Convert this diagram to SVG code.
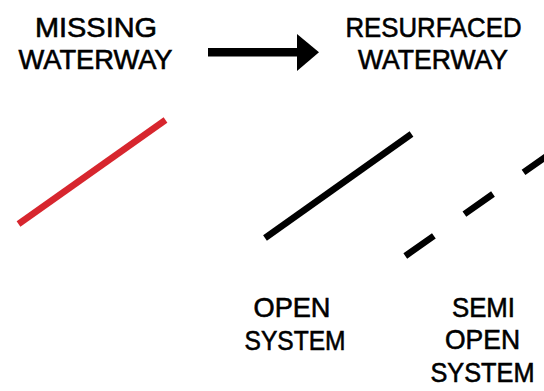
<svg xmlns="http://www.w3.org/2000/svg" width="544" height="391" viewBox="0 0 544 391">
<style>
  .t { font-family: "Liberation Sans", Arial, sans-serif; font-size: 28px; fill: #000; stroke: #000; stroke-width: 0.6; text-anchor: middle; }
  .ln { stroke-width: 6.5; stroke-linecap: butt; fill: none; }
</style>
<rect width="544" height="391" fill="#fff"/>
<g id="missing-label">
  <text class="t" x="96" y="37" textLength="122" lengthAdjust="spacingAndGlyphs">MISSING</text>
  <text class="t" x="95.5" y="69" textLength="154" lengthAdjust="spacingAndGlyphs">WATERWAY</text>
</g>
<g id="resurfaced-label">
  <text class="t" x="433.5" y="37" textLength="176" lengthAdjust="spacingAndGlyphs">RESURFACED</text>
  <text class="t" x="433" y="69" textLength="150" lengthAdjust="spacingAndGlyphs">WATERWAY</text>
</g>
<g id="connectors">
  <rect x="208" y="48" width="91" height="8.5" fill="#000"/>
  <polygon points="297,34 319,52.3 297,71" fill="#000"/>
</g>
<g id="missing-line">
  <line class="ln" x1="18.5" y1="224" x2="165.5" y2="120" stroke="#d7262e"/>
</g>
<g id="open-system">
  <line class="ln" x1="265" y1="238" x2="411.5" y2="134" stroke="#000"/>
  <text class="t" x="292" y="317" textLength="77" lengthAdjust="spacingAndGlyphs">OPEN</text>
  <text class="t" x="295" y="350" textLength="101" lengthAdjust="spacingAndGlyphs">SYSTEM</text>
</g>
<g id="semi-open-system">
  <path class="ln" d="M405.3,256 L560,146.6" stroke="#000" stroke-dasharray="35 37.4"/>
  <text class="t" x="483.5" y="317" textLength="63" lengthAdjust="spacingAndGlyphs">SEMI</text>
  <text class="t" x="482.5" y="349" textLength="75" lengthAdjust="spacingAndGlyphs">OPEN</text>
  <text class="t" x="482.5" y="381.5" textLength="104" lengthAdjust="spacingAndGlyphs">SYSTEM</text>
</g>
</svg>
